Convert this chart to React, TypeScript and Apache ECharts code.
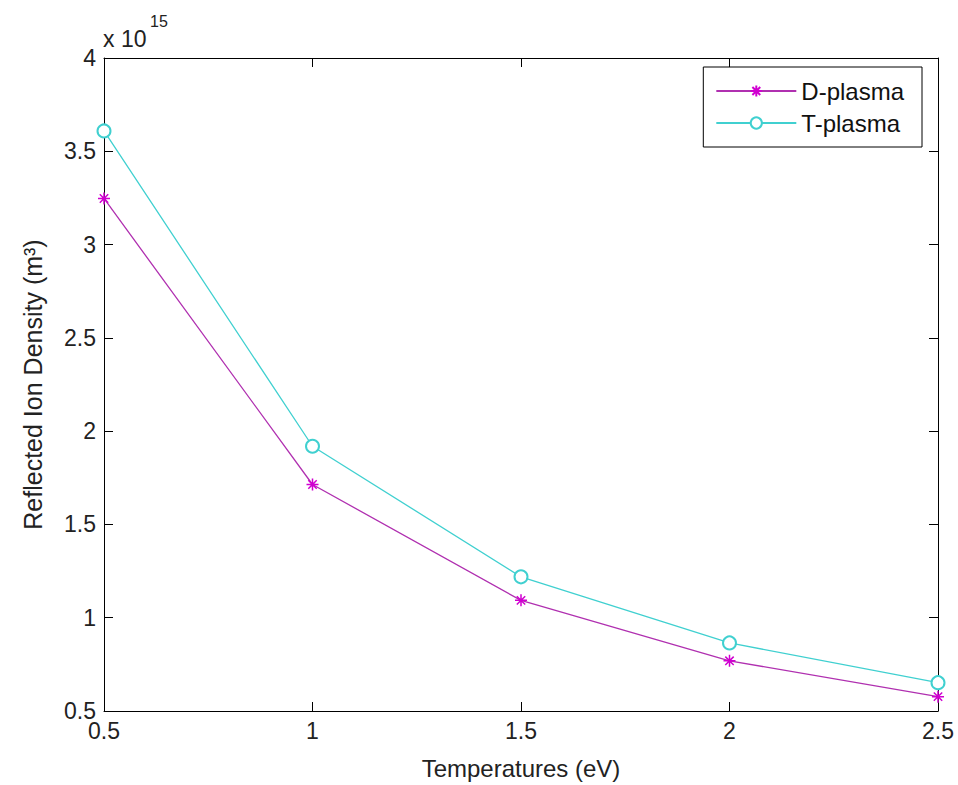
import React, { useEffect, useRef } from "react";
import * as echarts from "echarts";

const temperatures = [0.5, 1, 1.5, 2, 2.5];
const dPlasma = [3.247, 1.714, 1.093, 0.769, 0.577];
const tPlasma = [3.609, 1.919, 1.219, 0.865, 0.652];
const xTicks = [0.5, 1, 1.5, 2, 2.5];
const yTicks = [0.5, 1, 1.5, 2, 2.5, 3, 3.5, 4];

const FONT = "Liberation Sans, Arial, sans-serif";
const STAR = "path://M0,-10L0,10M-10,0L10,0M-7,-7L7,7M-7,7L7,-7";

export default function App() {
  const ref = useRef<HTMLDivElement>(null);
  useEffect(() => {
    document.body.style.margin = "0";
    if (!ref.current) return;
    const chart = echarts.init(ref.current, undefined, { renderer: "svg" });
    const axisCommon = {
      axisLine: { show: true, lineStyle: { color: "#000", width: 1 } },
      axisTick: { show: true, inside: true, length: 9, lineStyle: { color: "#000" } },
      splitLine: { show: false },
    };
    chart.setOption({
      animation: false,
      backgroundColor: "#fff",
      grid: { left: 104, right: 20, top: 58, bottom: 68 },
      legend: {
        orient: "vertical",
        right: 36,
        top: 67,
        borderColor: "#000",
        borderWidth: 1,
        backgroundColor: "#fff",
        padding: [12, 18, 12, 12],
        itemWidth: 80,
        itemHeight: 14,
        itemGap: 8,
        textStyle: { fontSize: 24, color: "#111", fontFamily: FONT },
        data: ["D-plasma", "T-plasma"],
      },
      xAxis: [
        {
          type: "value",
          min: xTicks[0],
          max: xTicks[xTicks.length - 1],
          interval: 0.5,
          position: "bottom",
          ...axisCommon,
          axisLabel: { fontSize: 23, color: "#222", fontFamily: FONT, margin: 8 },
          name: "Temperatures (eV)",
          nameLocation: "middle",
          nameGap: 45,
          nameTextStyle: { fontSize: 24, color: "#222", fontFamily: FONT },
        },
        {
          type: "value",
          min: xTicks[0],
          max: xTicks[xTicks.length - 1],
          interval: 0.5,
          position: "top",
          ...axisCommon,
          axisLabel: { show: false },
        },
      ],
      yAxis: [
        {
          type: "value",
          min: yTicks[0],
          max: yTicks[yTicks.length - 1],
          interval: 0.5,
          position: "left",
          ...axisCommon,
          axisLabel: { fontSize: 23, color: "#222", fontFamily: FONT, margin: 8 },
          name: "Reflected Ion Density (m³)",
          nameLocation: "middle",
          nameGap: 59,
          nameTextStyle: { fontSize: 25, color: "#222", fontFamily: FONT },
        },
        {
          type: "value",
          min: yTicks[0],
          max: yTicks[yTicks.length - 1],
          interval: 0.5,
          position: "right",
          ...axisCommon,
          axisLabel: { show: false },
        },
      ],
      graphic: [
        {
          type: "text",
          left: 103,
          top: 27,
          style: { text: "x 10", fontSize: 23, fill: "#222", fontFamily: FONT },
        },
        {
          type: "text",
          left: 150,
          top: 13,
          style: { text: "15", fontSize: 16, fill: "#222", fontFamily: FONT },
        },
      ],
      series: [
        {
          name: "D-plasma",
          type: "line",
          xAxisIndex: 0,
          yAxisIndex: 0,
          data: temperatures.map((t, i) => [t, dPlasma[i]]),
          symbol: STAR,
          symbolSize: 12,
          lineStyle: { color: "#b030b0", width: 1.3 },
          itemStyle: { color: "#d000d0", borderColor: "#d000d0", borderWidth: 1.5 },
        },
        {
          name: "T-plasma",
          type: "line",
          xAxisIndex: 0,
          yAxisIndex: 0,
          data: temperatures.map((t, i) => [t, tPlasma[i]]),
          symbol: "emptyCircle",
          symbolSize: 13,
          lineStyle: { color: "#40d0d0", width: 1.3 },
          itemStyle: { color: "#40d0d0", borderColor: "#40d0d0", borderWidth: 1.3 },
        },
      ],
    });
    return () => chart.dispose();
  }, []);
  return <div ref={ref} style={{ width: 958, height: 785 }} />;
}
